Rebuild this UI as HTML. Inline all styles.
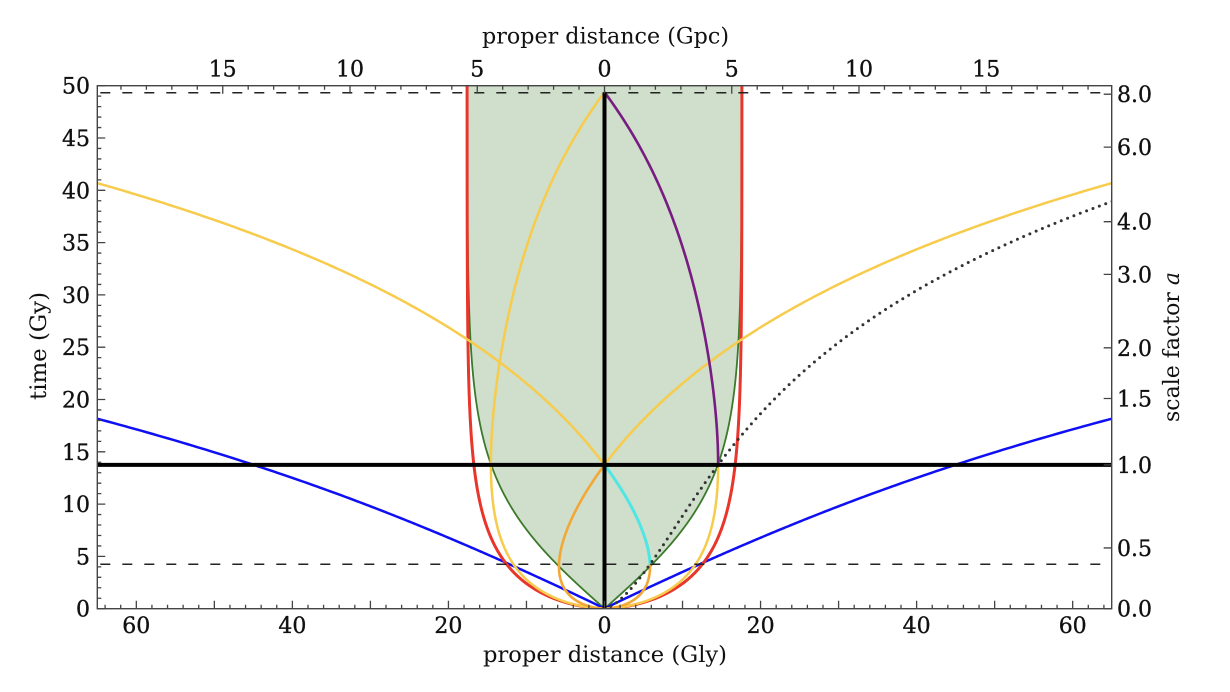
<!DOCTYPE html>
<html><head><meta charset="utf-8">
<style>
html,body{margin:0;padding:0;background:#fff;}
svg{display:block;}
text{font-family:"DejaVu Serif","Liberation Serif",serif;fill:#111;}
.tl{stroke:#111;stroke-width:0.35;}
</style></head>
<body>
<svg id="c" width="1230" height="692" viewBox="0 0 1230 692" xmlns="http://www.w3.org/2000/svg"></svg>
<script>
(function(){
const X0=97.3,X1=1111.7,Y0=85.7,Y1=608.7;
const XC=(X0+X1)/2, SX=(X1-X0)/130, SY=(Y1-Y0)/50;
const X=d=>XC+d*SX, Y=t=>Y1-t*SY;
const Om=0.32,OL=0.68,t0=13.75;
const r=Math.sqrt(OL/Om);
const tH=t0*3*Math.sqrt(OL)/(2*Math.asinh(r));
const A=Math.cbrt(Om/OL), k=1.5*Math.sqrt(OL)/tH;
function a(t){return t<=0?0:A*Math.pow(Math.sinh(k*t),2/3);}
function tOfA(x){return Math.asinh(Math.pow(x/A,1.5))/k;}
function integS(S,N){ if(S<=0)return 0; const h=S/N; let sum=0;
  for(let i=0;i<=N;i++){const s=i*h; const f=2/Math.sqrt(Om+OL*Math.pow(s,6));
    sum+=(i===0||i===N)?f:(i%2?4*f:2*f);} return tH*sum*h/3; }
function eta(t){return integS(Math.sqrt(a(t)),400);}
const SB=30; const etaInf=integS(SB,12000)+tH/(Math.sqrt(OL)*SB*SB);
const DH=t=>tH/Math.sqrt(Om/Math.pow(Math.max(a(t),1e-9),3)+OL);
const eta0=eta(t0);
const te=(Y1-564.3)/SY;
const chi=eta0-eta(te);
let lo=t0,hi=80; for(let i=0;i<60;i++){const m=(lo+hi)/2; if(eta(m)<eta0+chi)lo=m; else hi=m;}
const T=(lo+hi)/2;

function pts(f,ta,tb,n,cubic,sign){
  const out=[];
  for(let i=0;i<=n;i++){let u=i/n; let t=cubic?ta+(tb-ta)*u*u*u:ta+(tb-ta)*u;
    const d=f(t)*sign; out.push([X(d),Y(t)]);}
  return out;
}
function pathOf(p){return 'M'+p.map(q=>q[0].toFixed(2)+' '+q[1].toFixed(2)).join(' L');}
function P(f,ta,tb,cubic,sign,style,n){return '<path d="'+pathOf(pts(f,ta,tb,n||500,cubic,sign))+'" fill="none" '+style+'/>';}
function both(f,ta,tb,cubic,style,n){return P(f,ta,tb,cubic,1,style,n)+P(f,ta,tb,cubic,-1,style,n);}

const fPH=t=>a(t)*Math.max(eta(t)-1.8,0);
const fEH=t=>a(t)*(etaInf-eta(t));
const fPast0=t=>a(t)*Math.max(eta0-eta(t),0);
const fFut0=t=>a(t)*(eta(t)-eta0);
const fPastT=t=>a(t)*Math.max(eta(T)-eta(t),0);
const fGal=t=>a(t)*chi;

let s='';
s+='<defs><clipPath id="cp"><rect x="'+X0+'" y="'+Y0+'" width="'+(X1-X0)+'" height="'+(Y1-Y0)+'"/></clipPath></defs>';
s+='<g clip-path="url(#cp)">';
const R=pts(DH,0,50,500,true,1), L=pts(DH,0,50,500,true,-1).reverse();
s+='<path d="'+pathOf(R.concat(L))+'Z" fill="#cfdfcb" stroke="none"/>';
s+=both(DH,0,50,true,'stroke="#3b7a2b" stroke-width="1.8"');
s+=both(fPH,0,50,true,'stroke="#0f0ff5" stroke-width="2.5"');
s+=both(fEH,0,50,true,'stroke="#e8362b" stroke-width="3"');
s+=both(fFut0,t0,50,false,'stroke="#f7cb4c" stroke-width="2.5"');
s+=both(fPastT,0,T,true,'stroke="#f7cb4c" stroke-width="2.5"',700);
s+=both(fPast0,0,t0,true,'stroke="#f3a735" stroke-width="2.6"');
s+=P(fPastT,t0,T,false,1,'stroke="#761c87" stroke-width="2.6"',300);
s+=P(fPast0,te,t0,false,1,'stroke="#4fe6e6" stroke-width="3"',200);
s+=P(fGal,0,50,false,1,'stroke="#333" stroke-width="3" stroke-dasharray="0 6.8" stroke-linecap="round"',600);
s+='<line x1="'+X0+'" x2="'+X1+'" y1="92.7" y2="92.7" stroke="#222" stroke-width="1.5" stroke-dasharray="10 12" stroke-dashoffset="-3"/>';
s+='<line x1="'+X0+'" x2="'+X1+'" y1="564.3" y2="564.3" stroke="#222" stroke-width="1.5" stroke-dasharray="10 12" stroke-dashoffset="-3"/>';
s+='<line x1="'+XC+'" x2="'+XC+'" y1="'+Y(T).toFixed(2)+'" y2="'+Y1+'" stroke="#000" stroke-width="4"/>';
s+='<line x1="'+X0+'" x2="'+X1+'" y1="'+Y(t0).toFixed(2)+'" y2="'+Y(t0).toFixed(2)+'" stroke="#000" stroke-width="4"/>';
s+='</g>';
let tk='';
for(let v=0;v<=50;v++){const len=v%5===0?8:4; const y=Y(v).toFixed(2); tk+='M'+X0+' '+y+' H'+(X0+len)+' ';}
for(let d=-64;d<=64;d+=2){const len=d%10===0?8:4; const x=X(d).toFixed(2); tk+='M'+x+' '+Y1+' V'+(Y1-len)+' ';}
for(let g=-19;g<=19;g++){const len=g%5===0?8:4; const x=X(g*3.26156).toFixed(2); tk+='M'+x+' '+Y0+' V'+(Y0+len)+' ';}
const aT=[0,0.5,1,1.5,2,3,4,6,8];
for(const av of aT){const y=(av===0?Y1:Y(tOfA(av))).toFixed(2); tk+='M'+(X1-8)+' '+y+' H'+X1+' ';}
s+='<path d="'+tk+'" stroke="#444" stroke-width="1.3" fill="none"/>';
s+='<rect x="'+X0+'" y="'+Y0+'" width="'+(X1-X0)+'" height="'+(Y1-Y0)+'" fill="none" stroke="#444" stroke-width="1.4"/>';
let tx='';
for(let v=0;v<=50;v+=5){tx+='<text class="tl" x="90" y="'+(Y(v)+8).toFixed(1)+'" text-anchor="end" font-size="22">'+v+'</text>';}
for(let d=-60;d<=60;d+=20){tx+='<text class="tl" x="'+X(d).toFixed(1)+'" y="633" text-anchor="middle" font-size="22">'+Math.abs(d)+'</text>';}
for(let g=-15;g<=15;g+=5){tx+='<text class="tl" x="'+X(g*3.26156).toFixed(1)+'" y="76.5" text-anchor="middle" font-size="22">'+Math.abs(g)+'</text>';}
for(const av of aT){const y=(av===0?Y1:Y(tOfA(av))); tx+='<text class="tl" x="1117" y="'+(y+8).toFixed(1)+'" font-size="22">'+av.toFixed(1)+'</text>';}
tx+='<text x="605.5" y="43.5" text-anchor="middle" font-size="22" textLength="247" lengthAdjust="spacingAndGlyphs">proper distance (Gpc)</text>';
tx+='<text x="605" y="662" text-anchor="middle" font-size="22" textLength="244" lengthAdjust="spacingAndGlyphs">proper distance (Gly)</text>';
tx+='<text transform="translate(46,346) rotate(-90)" text-anchor="middle" font-size="22" textLength="108" lengthAdjust="spacingAndGlyphs">time (Gy)</text>';
tx+='<text transform="translate(1179,347) rotate(-90)" text-anchor="middle" font-size="22" textLength="150" lengthAdjust="spacingAndGlyphs">scale factor <tspan font-style="italic">a</tspan></text>';
s+=tx;
document.getElementById('c').innerHTML=s;
})();
</script>
</body></html>
